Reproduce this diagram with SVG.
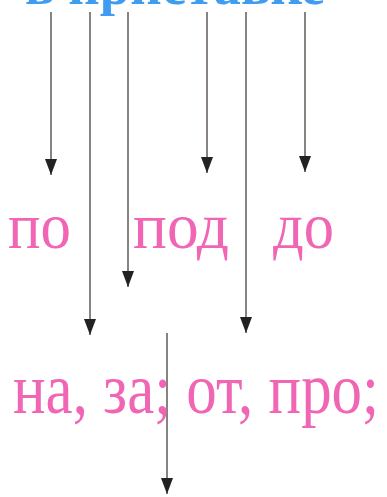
<svg xmlns="http://www.w3.org/2000/svg" width="387" height="497" viewBox="0 0 387 497">
  <defs>
    <style>
      .lbl { font-family: "Liberation Serif", "Times New Roman", serif; fill: #f065b4; }
      .title { font-family: "Liberation Serif", "Times New Roman", serif; fill: #3f9cf0; font-weight: bold; }
      .conn { stroke: #6a6460; stroke-width: 1.6; fill: none; marker-end: url(#arrow); }
    </style>
    <marker id="arrow" markerUnits="userSpaceOnUse" viewBox="0 0 16 12" markerWidth="16" markerHeight="12" refX="16" refY="6" orient="auto">
      <path d="M0,0 L16,6 L0,12 z" fill="#222"/>
    </marker>
  </defs>
  <rect width="387" height="497" fill="#fff"/>

  <g id="title">
    <text class="title" x="25" y="4" font-size="58" textLength="300" lengthAdjust="spacingAndGlyphs">в приставке</text>
  </g>

  <g id="connectors">
    <line class="conn" x1="51" y1="12" x2="51" y2="175"/>
    <line class="conn" x1="90" y1="12" x2="90" y2="335"/>
    <line class="conn" x1="128" y1="12" x2="128" y2="287"/>
    <line class="conn" x1="207" y1="12" x2="207" y2="173"/>
    <line class="conn" x1="246" y1="12" x2="246" y2="333"/>
    <line class="conn" x1="305" y1="12" x2="305" y2="172"/>
    <line class="conn" x1="167" y1="333" x2="167" y2="494"/>
  </g>

  <g id="n-po">
    <text class="lbl" x="8" y="248" font-size="66" textLength="63" lengthAdjust="spacingAndGlyphs">по</text>
  </g>
  <g id="n-pod">
    <text class="lbl" x="133" y="248" font-size="66" textLength="96" lengthAdjust="spacingAndGlyphs">под</text>
  </g>
  <g id="n-do">
    <text class="lbl" x="273" y="248" font-size="66" textLength="61" lengthAdjust="spacingAndGlyphs">до</text>
  </g>
  <g id="n-bottom">
    <text class="lbl" x="13" y="413" font-size="72" textLength="366" lengthAdjust="spacingAndGlyphs">на, за; от, про;</text>
  </g>
</svg>
